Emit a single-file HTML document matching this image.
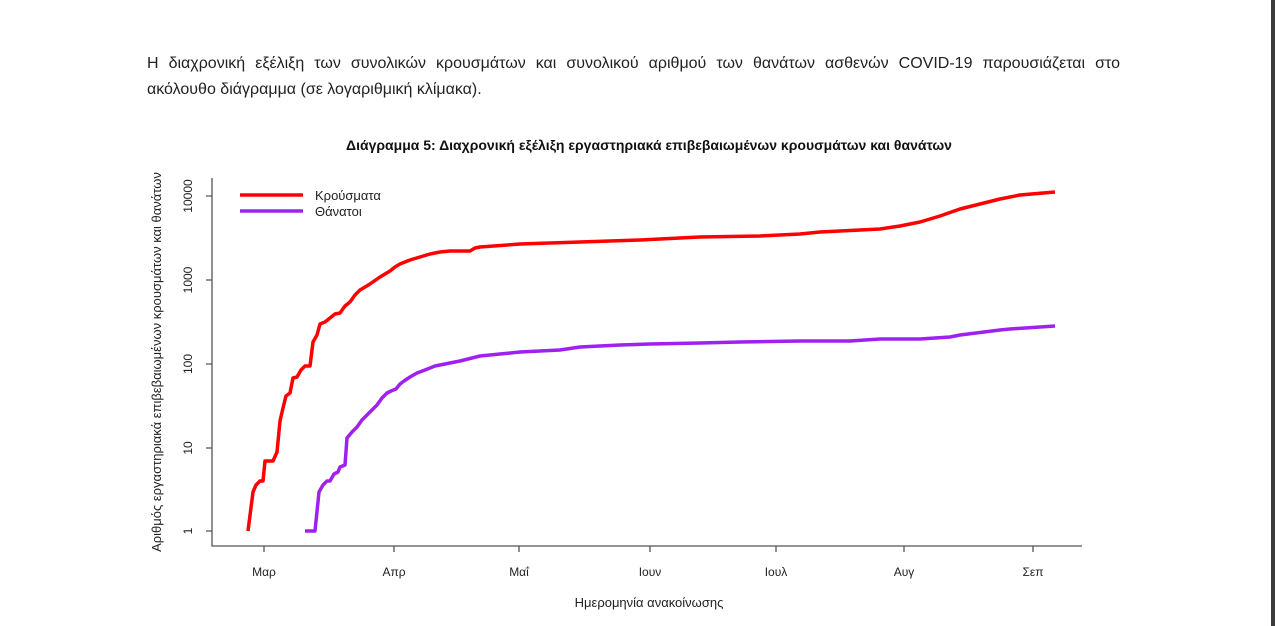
<!DOCTYPE html>
<html><head><meta charset="utf-8"><style>
body{margin:0;width:1275px;height:626px;background:#fff;overflow:hidden;position:relative;font-family:"Liberation Sans",sans-serif;color:#222}
.l{position:absolute;left:147px;width:973px;font-size:16px;line-height:26px;white-space:nowrap}
.j{text-align:justify;text-align-last:justify;white-space:normal}
.bar{position:absolute;left:1271px;top:0;width:4px;height:626px;background:#3c3c3c}
</style></head><body>
<div class="l j" style="top:51px">Η διαχρονική εξέλιξη των συνολικών κρουσμάτων και συνολικού αριθμού των θανάτων ασθενών COVID-19 παρουσιάζεται στο</div>
<div class="l" style="top:77px">ακόλουθο διάγραμμα (σε λογαριθμική κλίμακα).</div>
<div class="bar"></div>
<svg width="1275" height="626" style="position:absolute;left:0;top:0" font-family="Liberation Sans, sans-serif">
<text x="649" y="150" text-anchor="middle" font-weight="bold" font-size="14" fill="#111">Διάγραμμα 5: Διαχρονική εξέλιξη εργαστηριακά επιβεβαιωμένων κρουσμάτων και θανάτων</text>
<g stroke="#555" stroke-width="1.3" fill="none">
<path d="M212,178V546H1082"/>
<path d="M206,196H212M206,280H212M206,364H212M206,448H212M206,531H212"/>
<path d="M264,546v6M394,546v6M519,546v6M650,546v6M776,546v6M904,546v6M1033,546v6"/>
</g>
<g font-size="12" fill="#222" text-anchor="middle">
<text transform="translate(192,196) rotate(-90)">10000</text>
<text transform="translate(192,280) rotate(-90)">1000</text>
<text transform="translate(192,364) rotate(-90)">100</text>
<text transform="translate(192,448) rotate(-90)">10</text>
<text transform="translate(192,531) rotate(-90)">1</text>
<text x="264" y="576">Μαρ</text><text x="394" y="576">Απρ</text><text x="519" y="576">Μαΐ</text><text x="650" y="576">Ιουν</text><text x="776" y="576">Ιουλ</text><text x="904" y="576">Αυγ</text><text x="1033" y="576">Σεπ</text>
<text x="649" y="607" font-size="13">Ημερομηνία ανακοίνωσης</text>
<text transform="translate(161,362) rotate(-90)" font-size="13">Αριθμός εργαστηριακά επιβεβαιωμένων κρουσμάτων και θανάτων</text>
</g>
<line x1="240" y1="195" x2="303" y2="195" stroke="#f00" stroke-width="3.5"/>
<line x1="240" y1="211" x2="303" y2="211" stroke="#a020f0" stroke-width="3.5"/>
<text x="315" y="200" font-size="13" fill="#222">Κρούσματα</text>
<text x="315" y="216" font-size="13" fill="#222">Θάνατοι</text>
<polyline fill="none" stroke="#f00" stroke-width="3.5" stroke-linejoin="round" points="248,531 253,492 256,485 260,481 263,481 265,461 270,461 273,461 277,452 280,421 283,408 286,396 290,393 293,378 297,377 301,370 305,366 310,366 313,342 317,335 320,324 325,322 330,318 335,314 340,313 345,306 350,302 355,295 360,290 370,284 380,277 385,274 390,271 395,267 400,264 410,260 420,257 430,254 440,252 450,251 470,251 475,248 480,247 520,244 580,242 640,240 660,239 700,237 760,236 800,234 820,232 860,230 880,229 900,226 920,222 940,216 960,209 980,204 1000,199 1020,195 1055,192"/>
<polyline fill="none" stroke="#a020f0" stroke-width="3.5" stroke-linejoin="round" points="305,531 315,531 319,492 323,485 327,481 330,481 334,474 338,472 340,467 345,465 347,438 352,432 357,427 362,420 368,414 372,410 377,405 382,398 387,393 391,391 396,389 400,384 404,381 410,377 417,373 425,370 435,366 445,364 460,361 480,356 500,354 520,352 540,351 560,350 580,347 600,346 620,345 650,344 700,343 740,342 800,341 850,341 880,339 920,339 950,337 960,335 1000,330 1010,329 1055,326"/>
</svg>
</body></html>
